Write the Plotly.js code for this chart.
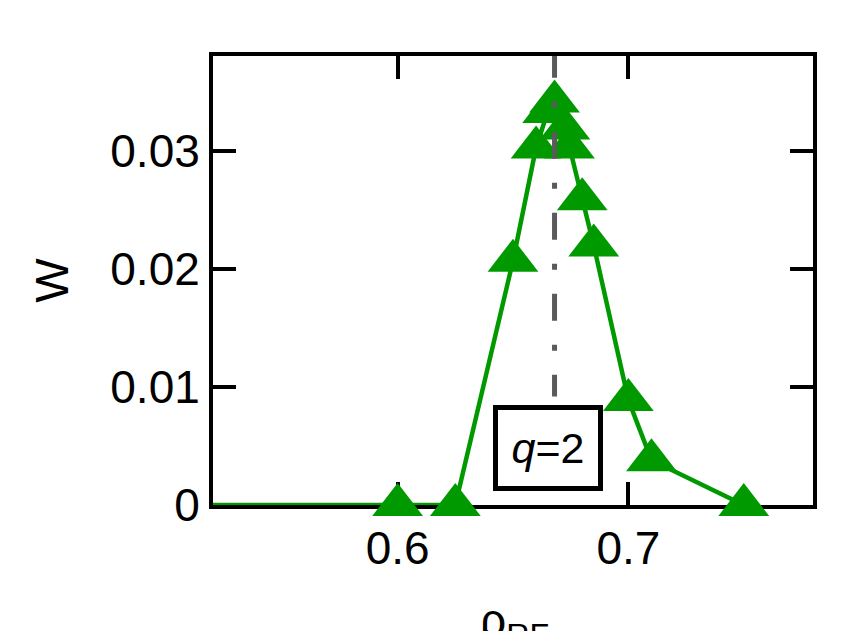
<!DOCTYPE html>
<html>
<head>
<meta charset="utf-8">
<script src="https://cdn.plot.ly/plotly-3.0.1.min.js"></script>
<style>html,body{margin:0;padding:0;background:#fff;}#chart{width:846px;height:631px;}</style>
</head>
<body>
<div id="chart"></div>
<script>
// data
var rhoLineStart = [0.52];
var rho = [0.6, 0.625, 0.65, 0.66, 0.665, 0.668, 0.6725, 0.6745, 0.68, 0.685, 0.70, 0.71, 0.75];
var W   = [0, 0, 0.0207, 0.0303, 0.0333, 0.0342, 0.0319, 0.0303, 0.0259, 0.0220, 0.0089, 0.0038, 0];
var qRho = 0.668;          // q=2 location
var qLineEndW = 0.0092;    // dash-dot line stops above label box
var xTicks = [0.6, 0.7];
var xTickText = ['0.6', '0.7'];
var yTicks = [0, 0.01, 0.02, 0.03];
var yTickText = ['0', '0.01', '0.02', '0.03'];
var xTitle = 'ρ<sub>RF</sub>';
var yTitle = 'W';

var green = '#009a00';
var FONT = 'Liberation Sans, Arial, sans-serif';

var traces = [
  {
    x: rhoLineStart.concat(rho),
    y: [0].concat(W),
    mode: 'lines',
    line: {color: green, width: 4.5},
    cliponaxis: false,
    hoverinfo: 'skip',
    showlegend: false
  },
  {
    x: rho,
    y: W,
    mode: 'markers',
    marker: {symbol: 'triangle-up', size: 44, color: green, line: {width: 0}},
    cliponaxis: false,
    showlegend: false
  }
];

var axisCommon = {
  showline: true, linecolor: '#000', linewidth: 4,
  mirror: 'ticks', ticks: 'inside', ticklen: 23, tickwidth: 4, tickcolor: '#000',
  showgrid: false, zeroline: false, layer: 'below traces',
  tickfont: {family: FONT, size: 46, color: '#000'}
};

var layout = {
  width: 846, height: 631,
  margin: {l: 213, r: 33, t: 56, b: 126},
  paper_bgcolor: '#fff', plot_bgcolor: '#fff',
  xaxis: Object.assign({}, axisCommon, {
    range: [0.52, 0.78], tickvals: xTicks, ticktext: xTickText
  }),
  yaxis: Object.assign({}, axisCommon, {
    range: [0, 0.03805], tickvals: yTicks, ticktext: yTickText,
    title: {text: yTitle, font: {family: FONT, size: 47, color: '#000'}, standoff: 28}
  }),
  shapes: [
    {type: 'line', xref: 'x', yref: 'y', x0: qRho, x1: qRho, y0: 0.0385, y1: qLineEndW,
     line: {color: '#5a5a5a', width: 5, dash: '27px,24px,6px,24px'}, layer: 'above'}
  ],
  annotations: [
    {xref: 'paper', yref: 'paper', x: 0.558, y: 0.127, xanchor: 'center', yanchor: 'middle',
     text: '<i>q</i>=2', showarrow: false,
     font: {family: FONT, size: 43, color: '#000'},
     bgcolor: '#fff', bordercolor: '#000', borderwidth: 5, borderpad: 0,
     width: 100, height: 76},
    {xref: 'paper', yref: 'paper', x: 0.503, y: -0.194, xanchor: 'center', yanchor: 'top',
     text: xTitle, showarrow: false,
     font: {family: FONT, size: 46, color: '#000'}}
  ]
};

Plotly.newPlot('chart', traces, layout, {displayModeBar: false, staticPlot: true});
</script>
</body>
</html>
